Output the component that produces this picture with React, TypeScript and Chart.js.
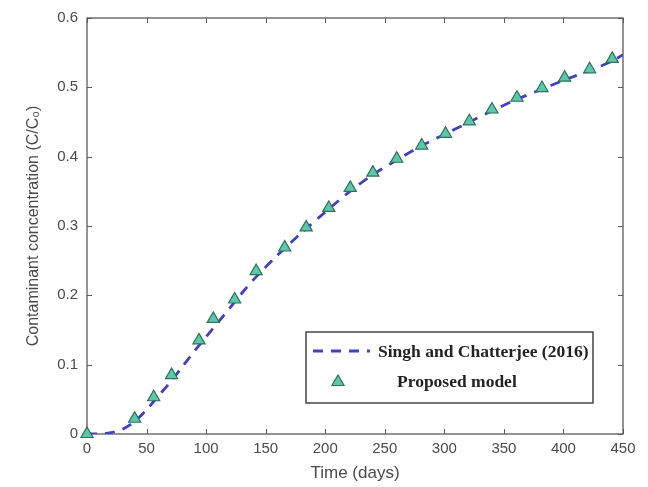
import React, { useEffect, useRef } from "react";
import { Chart, registerables } from "chart.js";

Chart.register(...registerables);

// Proposed model (triangles)
const pointTimes = [0, 40, 56, 71, 94, 106, 124, 142, 166, 184, 203, 221, 240, 260, 281, 301, 321, 340, 361, 382, 401, 422, 441];
const pointConc = [0, 0.022, 0.053, 0.085, 0.135, 0.166, 0.194, 0.235, 0.269, 0.298, 0.326, 0.355, 0.377, 0.397, 0.416, 0.433, 0.451, 0.468, 0.485, 0.499, 0.514, 0.526, 0.541];

// Singh and Chatterjee (2016) (dashed curve)
const lineTimes = [0, 10, 20, 30, 40, 50, 60, 70, 80, 90, 100, 110, 120, 130, 140, 160, 180, 200, 220, 240, 260, 280, 300, 320, 340, 360, 380, 400, 420, 440, 450];
const lineConc = [0, 0, 0.002, 0.007, 0.018, 0.035, 0.055, 0.075, 0.097, 0.119, 0.14, 0.161, 0.182, 0.203, 0.223, 0.258, 0.29, 0.32, 0.349, 0.374, 0.395, 0.415, 0.432, 0.449, 0.466, 0.482, 0.496, 0.51, 0.523, 0.537, 0.547];

const seriesNames = ["Singh and Chatterjee (2016)", "Proposed model"];
const xTitle = "Time (days)";
const yTitle = "Contaminant concentration (C/C\u2080)";

const LINE_COLOR = "#4040c4";
const TRI_FILL = "#5cc8a8";
const TRI_BORDER = "#2e6f60";
const AXIS_COLOR = "#5a5a5a";
const TEXT_COLOR = "#4a4a4a";

function drawTriangle(ctx: CanvasRenderingContext2D, x: number, y: number, r: number) {
  const h = r * 1.5;
  const w = r * 1.732;
  ctx.beginPath();
  ctx.moveTo(x, y - h * 0.6667);
  ctx.lineTo(x + w / 2, y + h * 0.3333);
  ctx.lineTo(x - w / 2, y + h * 0.3333);
  ctx.closePath();
  ctx.fillStyle = TRI_FILL;
  ctx.fill();
  ctx.lineWidth = 1.2;
  ctx.strokeStyle = TRI_BORDER;
  ctx.stroke();
}

const frameTicksPlugin = {
  id: "frameTicks",
  beforeDatasetsDraw(chart: any) {
    const { ctx, chartArea: a, scales } = chart;
    ctx.save();
    ctx.strokeStyle = AXIS_COLOR;
    ctx.lineWidth = 1;
    const len = 5;
    scales.x.ticks.forEach((t: any) => {
      const px = Math.round(scales.x.getPixelForValue(t.value)) + 0.5;
      ctx.beginPath();
      ctx.moveTo(px, a.bottom);
      ctx.lineTo(px, a.bottom - len);
      ctx.moveTo(px, a.top);
      ctx.lineTo(px, a.top + len);
      ctx.stroke();
    });
    scales.y.ticks.forEach((t: any) => {
      const py = Math.round(scales.y.getPixelForValue(t.value)) + 0.5;
      ctx.beginPath();
      ctx.moveTo(a.left, py);
      ctx.lineTo(a.left + len, py);
      ctx.moveTo(a.right, py);
      ctx.lineTo(a.right - len, py);
      ctx.stroke();
    });
    ctx.lineWidth = 1.3;
    ctx.strokeRect(a.left, a.top, a.right - a.left, a.bottom - a.top);
    ctx.restore();
  },
};

const legendPlugin = {
  id: "boxLegend",
  afterDatasetsDraw(chart: any) {
    const { ctx, chartArea: a } = chart;
    const bx = a.left + 219;
    const by = a.top + 314;
    const bw = 287;
    const bh = 71;
    ctx.save();
    ctx.fillStyle = "#ffffff";
    ctx.fillRect(bx, by, bw, bh);
    ctx.strokeStyle = "#444444";
    ctx.lineWidth = 1.5;
    ctx.strokeRect(bx, by, bw, bh);
    // line sample
    const y1 = by + 19;
    ctx.strokeStyle = LINE_COLOR;
    ctx.lineWidth = 2.8;
    ctx.setLineDash([10, 8]);
    ctx.beginPath();
    ctx.moveTo(bx + 7, y1);
    ctx.lineTo(bx + 64, y1);
    ctx.stroke();
    ctx.setLineDash([]);
    ctx.fillStyle = "#222222";
    ctx.font = "bold 17.5px 'Liberation Serif', 'Times New Roman', serif";
    ctx.textBaseline = "middle";
    ctx.textAlign = "left";
    ctx.fillText(seriesNames[0], bx + 72, y1 + 1);
    const y2 = by + 49;
    drawTriangle(ctx, bx + 32, y2 + 1, 7);
    ctx.fillStyle = "#222222";
    ctx.fillText(seriesNames[1], bx + 91, y2 + 1);
    ctx.restore();
  },
};

export default function App() {
  const ref = useRef<HTMLCanvasElement | null>(null);
  useEffect(() => {
    if (!ref.current) return;
    const tickFont = { family: "'Liberation Sans', Arial, sans-serif", size: 15 };
    const chart = new Chart(ref.current, {
      type: "scatter",
      data: {
        datasets: [
          {
            label: seriesNames[0],
            data: lineTimes.map((t, i) => ({ x: t, y: lineConc[i] })),
            showLine: true,
            borderColor: LINE_COLOR,
            borderWidth: 2.8,
            borderDash: [10, 8],
            pointRadius: 0,
            tension: 0.3,
            fill: false,
            order: 2,
          },
          {
            label: seriesNames[1],
            data: pointTimes.map((t, i) => ({ x: t, y: pointConc[i] })),
            showLine: false,
            pointStyle: "triangle",
            pointRadius: 7,
            backgroundColor: TRI_FILL,
            borderColor: TRI_BORDER,
            borderWidth: 1.2,
            clip: false,
            order: 1,
          },
        ],
      },
      options: {
        responsive: false,
        animation: false,
        layout: { padding: { top: 15, right: 25, left: 0, bottom: 0 } },
        plugins: {
          legend: { display: false },
          tooltip: { enabled: false },
        },
        scales: {
          x: {
            type: "linear",
            min: 0,
            max: 450,
            ticks: { stepSize: 50, color: TEXT_COLOR, font: tickFont, padding: 6, maxRotation: 0 },
            grid: { display: false, drawTicks: false },
            border: { display: false },
            title: {
              display: true,
              text: xTitle,
              color: TEXT_COLOR,
              font: { family: "'Liberation Sans', Arial, sans-serif", size: 17 },
              padding: { top: 0, bottom: 3 },
            },
            afterFit: (s: any) => {
              s.height = 53;
            },
          },
          y: {
            type: "linear",
            min: 0,
            max: 0.6,
            ticks: { stepSize: 0.1, color: TEXT_COLOR, font: tickFont, padding: 9 },
            grid: { display: false, drawTicks: false },
            border: { display: false },
            title: {
              display: true,
              text: yTitle,
              color: TEXT_COLOR,
              font: { family: "'Liberation Sans', Arial, sans-serif", size: 16 },
              padding: { top: 24, bottom: 0 },
            },
            afterFit: (s: any) => {
              s.width = 87;
            },
          },
        },
      },
      plugins: [frameTicksPlugin, legendPlugin],
    });
    return () => chart.destroy();
  }, []);
  return (
    <div style={{ position: "absolute", left: 0, top: 0, width: 648, height: 487, background: "#ffffff" }}>
      <canvas ref={ref} width={648} height={487} />
    </div>
  );
}
